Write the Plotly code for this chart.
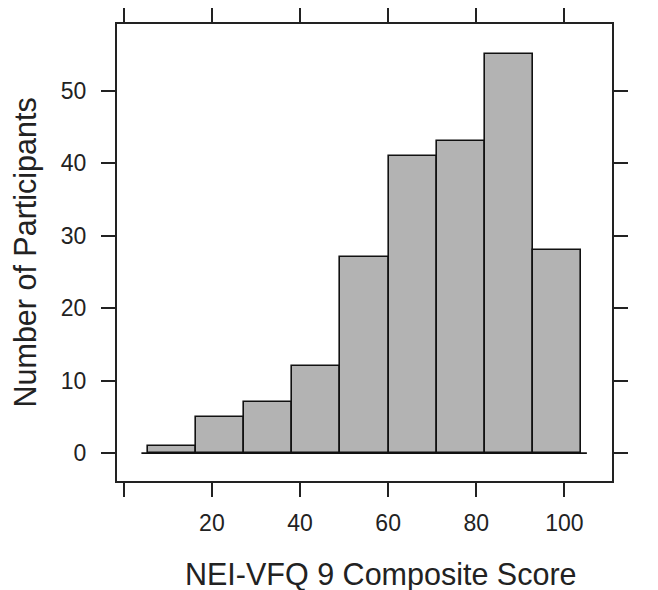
import plotly.graph_objects as go

# Data
bin_edges = [5.4, 16.4, 27.3, 38.2, 49.1, 60.1, 71.0, 81.9, 92.9, 103.8]
counts = [1, 5, 7, 12, 27, 41, 43, 55, 28]
x_tickvals = [0, 20, 40, 60, 80, 100]
x_ticktext = ["", "20", "40", "60", "80", "100"]
y_tickvals = [0, 10, 20, 30, 40, 50]
baseline_x = [4.0, 105.1]
baseline_y = [0, 0]
x_title = "NEI-VFQ 9 Composite Score"
y_title = "Number of Participants"

centers = [(a + b) / 2 for a, b in zip(bin_edges[:-1], bin_edges[1:])]
widths = [b - a for a, b in zip(bin_edges[:-1], bin_edges[1:])]

fig = go.Figure()
fig.add_trace(go.Scatter(x=baseline_x, y=baseline_y, mode="lines",
                         line=dict(color="#111111", width=1.6),
                         showlegend=False, hoverinfo="skip"))
fig.add_trace(go.Bar(x=centers, y=counts, width=widths,
                     marker=dict(color="#b3b3b3", line=dict(color="#111111", width=1.6)),
                     showlegend=False))

font_family = "Liberation Sans, Arial, sans-serif"
txt = "#222222"
fig.update_layout(
    width=658, height=590,
    margin=dict(l=117, r=46, t=24, b=109),
    paper_bgcolor="white", plot_bgcolor="white",
    font=dict(family=font_family, color=txt),
    bargap=0,
    annotations=[
        dict(text=x_title, xref="paper", yref="paper", x=0.5, y=0,
             xanchor="center", yanchor="middle", xshift=16, yshift=-93, showarrow=False,
             font=dict(size=30.5, family=font_family, color=txt)),
        dict(text=y_title, xref="paper", yref="paper", x=0, y=0.5,
             xanchor="center", yanchor="middle", xshift=-92, textangle=-90,
             showarrow=False, font=dict(size=30.5, family=font_family, color=txt)),
    ],
)
fig.update_xaxes(
    range=[-1.54, 110.8], tickvals=x_tickvals, ticktext=x_ticktext,
    ticks="outside", ticklen=14, tickwidth=2, tickcolor=txt,
    showline=True, linecolor=txt, linewidth=2, mirror="ticks",
    showgrid=False, zeroline=False, automargin=False,
    tickfont=dict(size=23, family=font_family, color=txt),
    ticklabelstandoff=6,
)
fig.update_yaxes(
    range=[-3.85, 59.2], tickvals=y_tickvals,
    ticks="outside", ticklen=14, tickwidth=2, tickcolor=txt,
    showline=True, linecolor=txt, linewidth=2, mirror="ticks",
    showgrid=False, zeroline=False, automargin=False,
    tickfont=dict(size=23, family=font_family, color=txt),
    ticklabelstandoff=10,
)

fig.write_html("out.html", config={"displayModeBar": False},
               post_script="document.body.style.margin='0';")
